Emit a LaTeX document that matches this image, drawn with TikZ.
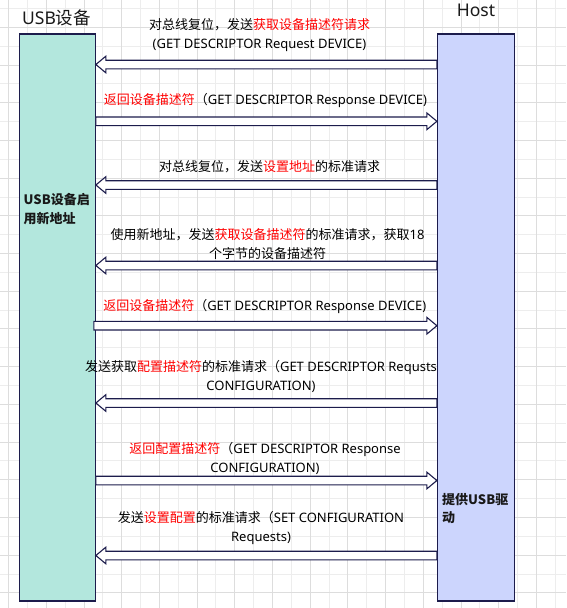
\documentclass[tikz,border=0pt]{standalone}
\usepackage{fontspec}
\setmainfont{Noto Sans CJK SC}
\newfontfamily\en{Noto Sans}
\usetikzlibrary{calc}
\definecolor{navy}{HTML}{1C1C4C}
\definecolor{mint}{HTML}{B3E7DD}
\definecolor{lav}{HTML}{CCD5FD}
\definecolor{rd}{HTML}{FF0000}
\definecolor{gminor}{HTML}{EDEDED}
\definecolor{gmajor}{HTML}{DDDDDD}
\newcommand{\barrow}[3]{%
  \draw[blk] let \p1=(#1), \p2=(#2), \n1={(\x2>\x1)?-10:10} in
  (\x1,#3-4.3) -- (\x2+\n1,#3-4.3) -- (\x2+\n1,#3-8.3) -- (\x2,#3)
  -- (\x2+\n1,#3+8.3) -- (\x2+\n1,#3+4.3) -- (\x1,#3+4.3) -- cycle;}
\begin{document}
\begin{tikzpicture}[x=1pt,y=-1pt,
  lab/.style={inner sep=0pt, align=center, text=black, font=\fontsize{13}{19}\selectfont},
  boldlab/.style={inner sep=0pt, align=left, anchor=west, text=black!90, font=\fontsize{13}{18.5}\selectfont\bfseries},
  ttl/.style={inner sep=0pt, text=black!90, font=\fontsize{17.5}{20}\selectfont},
  lifebox/.style={draw=navy, line width=1.2pt, minimum height=567pt, inner sep=0pt},
  blk/.style={draw=navy, fill=white, line width=1.1pt, line join=miter},
  gl/.style={draw=gminor, line width=0.8pt},
  gL/.style={draw=gmajor, line width=0.8pt}]
\useasboundingbox (0,0) rectangle (566,608);
\fill[white] (0,0) rectangle (566,608);
% grid
\foreach \k in {0,...,29} \draw[gl] ({8.5+18.85*\k},0) -- ({8.5+18.85*\k},608);
\foreach \k in {0,...,31} \draw[gl] (0,{8.4+18.85*\k}) -- (566,{8.4+18.85*\k});
\foreach \k in {0,2,...,28} \draw[gL] ({8.5+18.85*\k},0) -- ({8.5+18.85*\k},608);
\foreach \k in {1,3,...,31} \draw[gL] (0,{8.4+18.85*\k}) -- (566,{8.4+18.85*\k});
% lifelines
\node[lifebox, fill=mint, minimum width=76pt] (usb) at (57.25,317.5) {};
\node[lifebox, fill=lav, minimum width=77pt] (host) at (476,317.5) {};
\node[ttl] (usbtitle) at (56.5,18.3) {{\en USB}设备};
\node[ttl] (hosttitle) at (476,10) {{\en Host}};
\node[boldlab] (usbnote) at (23.5,209) {USB设备启\\用新地址};
\node[boldlab] (hostnote) at (442,508.5) {提供USB驱\\动};
% messages
\barrow{host.west}{usb.east}{64.5}
\node[lab] (t1) at (259.5,35.5) {对总线复位，发送\textcolor{rd}{获取设备描述符请求}\\{\en (GET DESCRIPTOR Request DEVICE)}};
\barrow{usb.east}{host.west}{121.3}
\node[lab] (t2) at (265.5,100) {\textcolor{rd}{返回设备描述符}（{\en GET DESCRIPTOR Response DEVICE)}};
\barrow{host.west}{usb.east}{185}
\node[lab] (t3) at (269.5,166.7) {对总线复位，发送\textcolor{rd}{设置地址}的标准请求};
\barrow{host.west}{usb.east}{265.5}
\node[lab] (t4) at (267.6,244.5) {使用新地址，发送\textcolor{rd}{获取设备描述符}的标准请求，获取{\en 18}\\个字节的设备描述符};
\barrow{[xshift=-2pt]usb.east}{host.west}{325.7}
\node[lab] (t5) at (264.8,306.7) {\textcolor{rd}{返回设备描述符}（{\en GET DESCRIPTOR Response DEVICE)}};
\barrow{host.west}{usb.east}{403}
\node[lab] (t6) at (261,376) {发送获取\textcolor{rd}{配置描述符}的标准请求（{\en GET DESCRIPTOR Requsts}\\{\en CONFIGURATION)}};
\barrow{usb.east}{host.west}{480.5}
\node[lab] (t7) at (265,458.5) {\textcolor{rd}{返回配置描述符}（{\en GET DESCRIPTOR Response}\\{\en CONFIGURATION)}};
\barrow{host.west}{usb.east}{555.5}
\node[lab] (t8) at (261,528) {发送\textcolor{rd}{设置配置}的标准请求（{\en SET CONFIGURATION}\\{\en Requests)}};
\end{tikzpicture}
\end{document}
